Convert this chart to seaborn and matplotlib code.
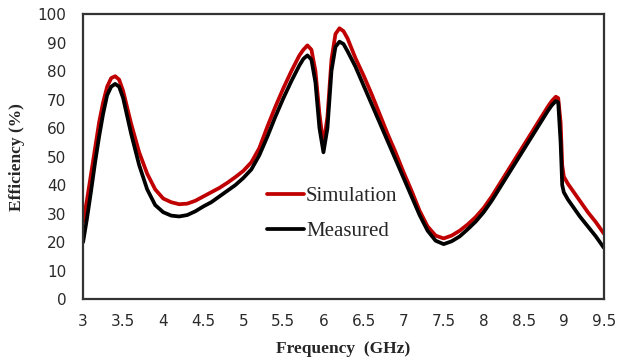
import matplotlib
matplotlib.use("Agg")
import matplotlib.pyplot as plt
import seaborn as sns
import pandas as pd
from matplotlib.lines import Line2D

freq = [3.0, 3.05, 3.1, 3.15, 3.2, 3.25, 3.3, 3.35, 3.4, 3.45, 3.5, 3.6, 3.7, 3.8, 3.9,
        4.0, 4.1, 4.2, 4.3, 4.4, 4.5, 4.6, 4.7, 4.8, 4.9, 5.0, 5.1, 5.2, 5.3, 5.4, 5.5,
        5.6, 5.7, 5.75, 5.8, 5.85, 5.9, 5.95, 6.0, 6.05, 6.1, 6.15, 6.2, 6.25, 6.3, 6.4,
        6.5, 6.6, 6.7, 6.8, 6.9, 7.0, 7.1, 7.2, 7.3, 7.4, 7.5, 7.6, 7.7, 7.8, 7.9, 8.0,
        8.1, 8.2, 8.3, 8.4, 8.5, 8.6, 8.7, 8.8, 8.85, 8.9, 8.93, 8.96, 8.98, 9.0, 9.05,
        9.1, 9.2, 9.3, 9.4, 9.5]

simulation = [27, 35, 44, 53, 62, 69, 74.5, 77.5, 78.2, 77, 73, 61.5, 51.5, 44, 38.5,
              35.3, 34, 33.3, 33.5, 34.5, 36, 37.5, 39, 40.8, 42.8, 45, 48, 53, 60.5, 67.5, 74,
              80, 85.5, 87.5, 89, 87.5, 80, 65, 54, 64, 84, 93, 95, 94, 91.5, 84.5,
              78.5, 72, 65, 58, 51.5, 44.5, 38, 31, 25.5, 22.3, 21.3, 22.3, 24, 26.2, 28.8, 32,
              36, 40.5, 45, 49.5, 54, 58.5, 63, 67.5, 69.5, 71, 70.5, 62, 47, 43, 40.5,
              38.5, 34.5, 30.5, 27, 23]

measured = [20, 28.5, 38, 48, 57, 65, 71.5, 74.5, 75.5, 74.5, 70.5, 58, 47, 38.5, 33,
            30.5, 29.3, 29, 29.5, 30.8, 32.5, 34, 36, 38, 40, 42.5, 45.5, 50.5, 57, 64, 70.5,
            76.5, 82, 84.3, 85.5, 84, 76, 60, 51.5, 60, 80, 88.5, 90.3, 89.5, 87, 81.5,
            75, 68.5, 62, 55.5, 49, 42.5, 36, 29.5, 24, 20.5, 19.3, 20.3, 22, 24.5, 27.2, 30.5,
            34.5, 39, 43.5, 48, 52.5, 57, 61.5, 66, 68, 69.5, 69, 55, 40, 37.5, 35,
            33, 29, 25.5, 22, 18]

series_names = ["Simulation", "Measured"]
series_colors = ["#C00000", "#000000"]
xticks = [3, 3.5, 4, 4.5, 5, 5.5, 6, 6.5, 7, 7.5, 8, 8.5, 9, 9.5]
xtick_labels = ["3", "3.5", "4", "4.5", "5", "5.5", "6", "6.5", "7", "7.5", "8", "8.5", "9", "9.5"]
yticks = [0, 10, 20, 30, 40, 50, 60, 70, 80, 90, 100]

df = pd.concat([
    pd.DataFrame({"Frequency": freq, "Efficiency": simulation, "Series": series_names[0]}),
    pd.DataFrame({"Frequency": freq, "Efficiency": measured, "Series": series_names[1]}),
])

sns.set_style("white")
fig = plt.figure(figsize=(6.2, 3.6), dpi=100)
ax = fig.add_axes([0.134, 0.169, 0.840, 0.792])

sns.lineplot(data=df, x="Frequency", y="Efficiency", hue="Series",
             palette=dict(zip(series_names, series_colors)), linewidth=2.7,
             ax=ax, legend=False, sort=False)
for ln in ax.get_lines():
    ln.set_solid_joinstyle("round")
    ln.set_solid_capstyle("round")

ax.set_xlim(3, 9.5)
ax.set_ylim(0, 100)
ax.set_xticks(xticks)
ax.set_xticklabels(xtick_labels)
ax.set_yticks(yticks)
ax.tick_params(axis="both", length=0, labelsize=11, colors="#2a2a2a")
ax.tick_params(axis="x", pad=11)
ax.tick_params(axis="y", pad=12)
for lbl in ax.get_xticklabels() + ax.get_yticklabels():
    lbl.set_family("DejaVu Sans")

for s in ax.spines.values():
    s.set_visible(True)
    s.set_color("#333333")
    s.set_linewidth(1.6)

ax.set_xlabel("Frequency  (GHz)", family="Liberation Serif", fontweight="bold",
              fontsize=12.5, labelpad=8)
ax.set_ylabel("Efficiency (%)", family="Liberation Serif", fontweight="bold",
              fontsize=12.5, labelpad=9)

handles = [Line2D([], [], color=c, linewidth=2.7) for c in series_colors]
ax.legend(handles, series_names, loc="center left", bbox_to_anchor=(0.318, 0.30),
          frameon=False, prop={"family": "Liberation Serif", "size": 15},
          handlelength=1.75, handletextpad=0.1, labelspacing=0.75)

fig.savefig("out.png", dpi=100)
